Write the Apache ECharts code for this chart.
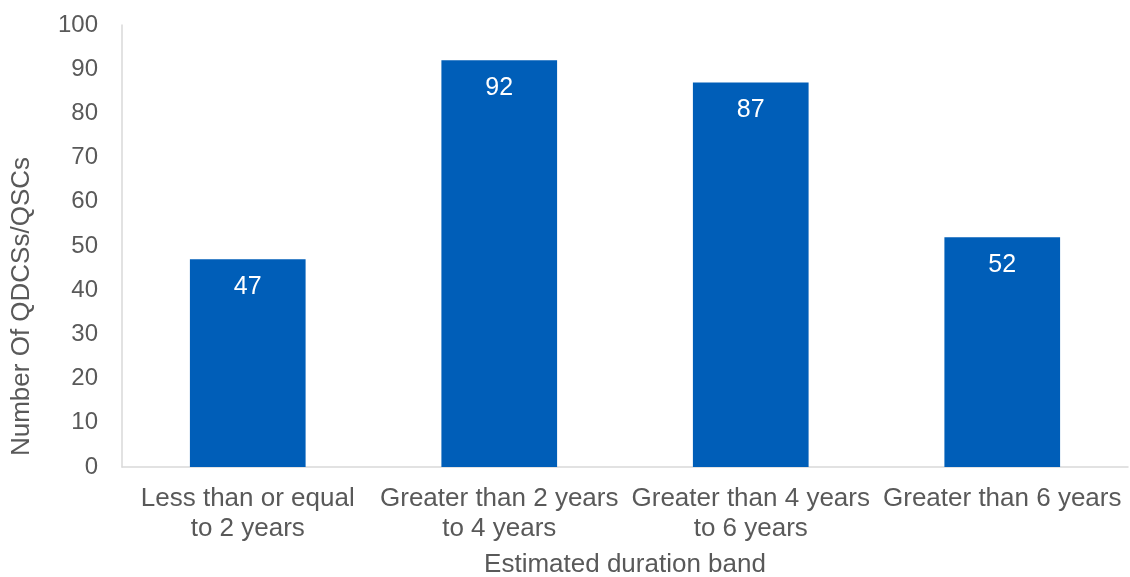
<!DOCTYPE html>
<html>
<head>
<meta charset="utf-8">
<script src="https://cdn.jsdelivr.net/npm/echarts@6/dist/echarts.min.js"></script>
<style>
  html, body { margin: 0; padding: 0; background: #fff; }
  #chart { width: 1130px; height: 577px; }
</style>
</head>
<body>
<div id="chart"></div>
<script>
// Duration bands and counts
const categories = [
  'Less than or equal\nto 2 years',
  'Greater than 2 years\nto 4 years',
  'Greater than 4 years\nto 6 years',
  'Greater than 6 years'
];
const counts = [47, 92, 87, 52];
const yTicks = { min: 0, max: 100, interval: 10 };

const chart = echarts.init(document.getElementById('chart'));
const font = 'Liberation Sans, Arial, sans-serif';
const grey = '#595959';

chart.setOption({
  animation: false,
  grid: { left: 122, right: 2, top: 25, bottom: 110, containLabel: false, outerBoundsMode: 'none' },
  xAxis: {
    type: 'category',
    data: categories,
    name: 'Estimated duration band',
    nameLocation: 'middle',
    nameGap: 85,
    nameTextStyle: { fontFamily: font, fontSize: 26, color: grey },
    axisLine: { lineStyle: { color: '#d9d9d9', width: 1.5 } },
    axisTick: { show: false },
    axisLabel: { fontFamily: font, fontSize: 26, color: grey, lineHeight: 30, margin: 17, interval: 0 }
  },
  yAxis: {
    type: 'value',
    min: yTicks.min, max: yTicks.max, interval: yTicks.interval,
    name: 'Number Of QDCSs/QSCs',
    nameLocation: 'middle',
    nameGap: 87,
    nameTextStyle: { fontFamily: font, fontSize: 26, color: grey, padding: [0, 121, 0, 0] },
    axisLine: { show: true, lineStyle: { color: '#d9d9d9', width: 1.5 } },
    axisTick: { show: false },
    splitLine: { show: false },
    axisLabel: { fontFamily: font, fontSize: 24, color: grey, margin: 24 }
  },
  series: [{
    type: 'bar',
    data: counts,
    barWidth: '46%',
    itemStyle: { color: '#005EB8' },
    label: {
      show: true,
      position: 'insideTop',
      distance: 15,
      color: '#fff',
      fontFamily: font,
      fontSize: 25
    }
  }]
});
</script>
</body>
</html>
